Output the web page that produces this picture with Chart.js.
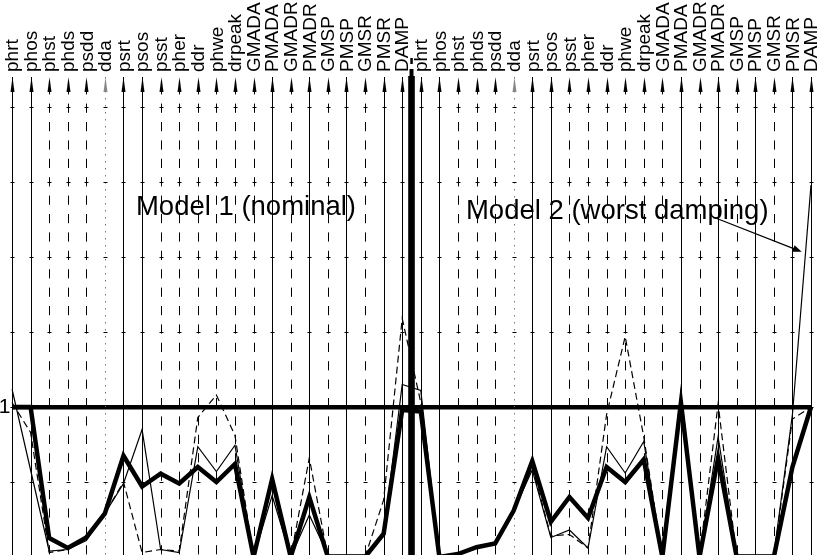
<!DOCTYPE html>
<html>
<head>
<meta charset="utf-8">
<script src="https://cdn.jsdelivr.net/npm/chart.js@4.4.1/dist/chart.umd.min.js"></script>
<style>
  html, body { margin: 0; padding: 0; background: #fff; overflow: hidden; }
  #wrap { width: 823px; height: 555px; }
</style>
</head>
<body>
<div id="wrap"><canvas id="chart"></canvas></div>
<script>
// one parallel axis per parameter, same set for both models
const axisNames = ['phrt', 'phos', 'phst', 'phds', 'psdd', 'dda', 'psrt', 'psos', 'psst', 'pher', 'ddr',
  'phwe', 'drpeak', 'GMADA', 'PMADA', 'GMADR', 'PMADR', 'GMSP', 'PMSP', 'GMSR', 'PMSR', 'DAMP'];
const categories = axisNames.concat(axisNames);

// normalised values, model 1 then model 2
const tuningA = [1.0, 1.0, 0.127, 0.06, 0.13, 0.29, 0.675, 0.47, 0.555, 0.49, 0.60, 0.50, 0.62, 0.0, 0.52, 0.0, 0.40, 0.0, 0.0, 0.0, 0.155, 0.98,
  0.97, 0.0, 0.02, 0.065, 0.09, 0.31, 0.64, 0.235, 0.40, 0.26, 0.60, 0.50, 0.65, 0.0, 1.03, 0.0, 0.66, 0.0, 0.0, 0.0, 0.60, 1.0];
const tuningB = [1.12, 0.58, 0.04, 0.05, 0.11, 0.29, 0.49, 0.85, 0.05, 0.03, 0.735, 0.57, 0.745, 0.0, 0.41, 0.0, 0.28, 0.015, 0.015, 0.015, 0.16, 1.15,
  1.11, 0.0, 0.02, 0.06, 0.09, 0.31, 0.58, 0.13, 0.18, 0.06, 0.735, 0.56, 0.77, 0.0, 1.08, 0.0, 0.80, 0.015, 0.015, 0.015, 0.95, 2.48];
const tuningC = [1.03, 0.83, 0.03, 0.05, 0.12, 0.29, 0.50, 0.03, 0.05, 0.04, 0.93, 1.08, 0.81, 0.0, 0.50, 0.0, 0.66, 0.0, 0.0, 0.0, 0.38, 1.59,
  1.03, 0.0, 0.02, 0.06, 0.09, 0.31, 0.60, 0.14, 0.15, 0.06, 0.95, 1.47, 0.80, 0.0, 1.10, 0.0, 1.02, 0.0, 0.0, 0.0, 0.92, 1.0];

const yTicks = [0.5, 1, 1.5, 2, 2.5, 3];

// line style of each axis (repeats for model 2)
const axisKind = ['solid', 'solid', 'dash', 'dash', 'dash', 'dot', 'solid', 'solid', 'dash', 'dash', 'dash',
  'dash', 'dash', 'dash', 'solid', 'dash', 'solid', 'dash', 'solid', 'dash', 'solid', 'solid'];

const FONT = "'Liberation Sans', Arial, sans-serif";

const parallelAxes = {
  id: 'parallelAxes',
  beforeDatasetsDraw(chart) {
    const { ctx, chartArea, scales: { x, y } } = chart;
    const top = chartArea.top, bottom = chartArea.bottom;
    ctx.save();
    ctx.lineWidth = 1;
    categories.forEach((name, i) => {
      const px = Math.round(x.getPixelForValue(i)) + 0.5;
      const kind = axisKind[i % axisKind.length];
      if (kind === 'dash') {
        ctx.setLineDash([9.2, 9.2]);
        ctx.lineDashOffset = 10.2;
      } else if (kind === 'dot') {
        ctx.setLineDash([1.5, 5.5]);
        ctx.lineDashOffset = 0;
      } else {
        ctx.setLineDash([]);
      }
      ctx.strokeStyle = kind === 'dot' ? '#777' : '#000';
      ctx.beginPath();
      ctx.moveTo(px, top);
      ctx.lineTo(px, bottom);
      ctx.stroke();
      ctx.setLineDash([]);
      ctx.strokeStyle = '#000';
      yTicks.forEach(v => {
        const py = Math.round(y.getPixelForValue(v)) + 0.5;
        ctx.beginPath();
        ctx.moveTo(px - 2, py);
        ctx.lineTo(px + 2, py);
        ctx.stroke();
      });
      // arrow head on top of the axis
      ctx.fillStyle = kind === 'dot' ? '#888' : '#000';
      ctx.beginPath();
      ctx.moveTo(px, top);
      ctx.lineTo(px - 2, top + 15);
      ctx.lineTo(px + 2, top + 15);
      ctx.closePath();
      ctx.fill();

      // axis name, reading upwards, centred on the axis
      ctx.save();
      ctx.fillStyle = '#000';
      ctx.font = '19px ' + FONT;
      ctx.textAlign = 'left';
      ctx.textBaseline = 'middle';
      ctx.translate(x.getPixelForValue(i) + 1, top - 5);
      ctx.rotate(-Math.PI / 2);
      ctx.fillText(name, 0, 0);
      ctx.restore();
    });
    // thick separator between the two models
    const sx = x.getPixelForValue(axisNames.length - 0.5);
    ctx.fillStyle = '#000';
    ctx.fillRect(sx - 1.2, 58, 2.5, 6);
    ctx.fillRect(sx - 2, 69, 4, 8);
    ctx.fillRect(sx - 3.3, 76, 6.6, bottom - 76);
    ctx.restore();
  },
  afterDraw(chart) {
    const { ctx, scales: { x, y } } = chart;
    ctx.save();
    ctx.fillStyle = '#000';
    ctx.strokeStyle = '#000';
    ctx.font = '27.5px ' + FONT;
    ctx.textAlign = 'left';
    ctx.textBaseline = 'alphabetic';
    ctx.fillText('Model 1 (nominal)', x.getPixelForValue(6.67), y.getPixelForValue(2.28));
    ctx.fillText('Model 2 (worst damping)', x.getPixelForValue(24.43), y.getPixelForValue(2.25));

    // pointer to the worst damping line
    const x0 = x.getPixelForValue(37.73), y0 = y.getPixelForValue(2.267);
    const x1 = x.getPixelForValue(42.5), y1 = y.getPixelForValue(2.035);
    const ang = Math.atan2(y1 - y0, x1 - x0);
    ctx.lineWidth = 1.2;
    ctx.beginPath();
    ctx.moveTo(x0, y0);
    ctx.lineTo(x1 - 8 * Math.cos(ang), y1 - 8 * Math.sin(ang));
    ctx.stroke();
    ctx.beginPath();
    ctx.moveTo(x1, y1);
    ctx.lineTo(x1 - 9 * Math.cos(ang) + 3.5 * Math.sin(ang), y1 - 9 * Math.sin(ang) - 3.5 * Math.cos(ang));
    ctx.lineTo(x1 - 9 * Math.cos(ang) - 3.5 * Math.sin(ang), y1 - 9 * Math.sin(ang) + 3.5 * Math.cos(ang));
    ctx.closePath();
    ctx.fill();
    ctx.restore();
  }
};

new Chart(document.getElementById('chart'), {
  type: 'line',
  data: {
    labels: categories,
    datasets: [
      { label: 'A', data: tuningA, borderColor: '#000', borderWidth: 4.5 },
      { label: 'B', data: tuningB, borderColor: '#000', borderWidth: 1.2 },
      { label: 'C', data: tuningC, borderColor: '#000', borderWidth: 1.2, borderDash: [7, 4] }
    ]
  },
  options: {
    responsive: true,
    maintainAspectRatio: false,
    animation: false,
    devicePixelRatio: 1,
    layout: { padding: { left: 0, right: 12, top: 0, bottom: 0 } },
    elements: {
      point: { radius: 0, hoverRadius: 0 },
      line: { tension: 0, fill: false }
    },
    plugins: {
      legend: { display: false },
      tooltip: { enabled: false }
    },
    scales: {
      x: {
        type: 'category',
        position: 'top',
        grid: { display: false, drawTicks: false },
        border: { display: false },
        ticks: { display: false, autoSkip: false },
        afterFit: s => {
          s.height = 77;
          s.paddingLeft = 0;
          s.paddingRight = 0;
        }
      },
      y: {
        min: 0.0133,
        max: 3.2,
        border: { display: false },
        grid: {
          drawTicks: false,
          color: c => (c.tick && c.tick.value === 1 ? '#000' : 'rgba(0,0,0,0)'),
          lineWidth: c => (c.tick && c.tick.value === 1 ? 4.5 : 0)
        },
        ticks: {
          stepSize: 0.5,
          padding: 1.5,
          color: '#000',
          font: { family: FONT, size: 21 },
          callback: v => (v === 1 ? '1' : '')
        },
        afterFit: s => {
          s.width = 12;
          s.paddingTop = 0;
          s.paddingBottom = 0;
        }
      }
    }
  },
  plugins: [parallelAxes]
});
</script>
</body>
</html>
